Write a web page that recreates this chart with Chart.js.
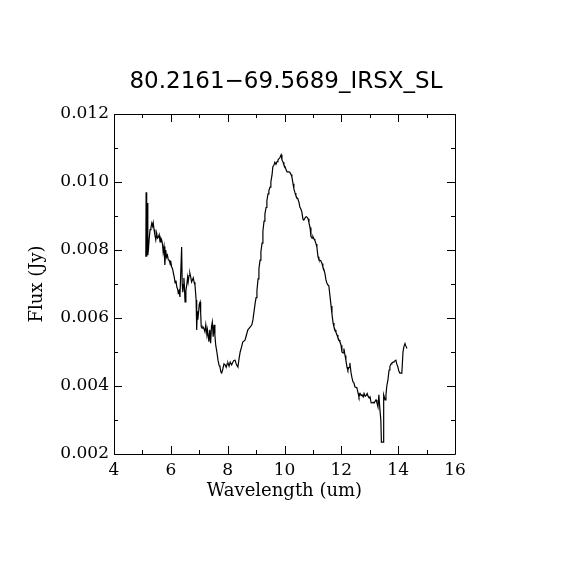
<!DOCTYPE html>
<html>
<head>
<meta charset="utf-8">
<script src="https://cdn.jsdelivr.net/npm/chart.js@4.4.0/dist/chart.umd.min.js"></script>
<style>
    html, body { margin: 0; padding: 0; background: #fff; }
</style>
</head>
<body>
<canvas id="spectrum" width="570" height="570"></canvas>
<script>
// Spectrum
const chartTitle = '80.2161\u221269.5689_IRSX_SL';
const xLabel = 'Wavelength (um)';
const yLabel = 'Flux (Jy)';

const wavelength = [
    5.12, 5.13, 5.15, 5.17, 5.19, 5.21, 5.24, 5.27, 5.30, 5.33, 5.36, 5.38, 5.41, 5.44, 5.47, 5.50,
    5.53, 5.56, 5.59, 5.62, 5.65, 5.68, 5.71, 5.73, 5.76, 5.79, 5.82, 5.85, 5.88, 5.91, 5.94, 5.97,
    6.00, 6.03, 6.06, 6.09, 6.12, 6.15, 6.18, 6.21, 6.24, 6.26, 6.29, 6.32, 6.35, 6.38, 6.40, 6.42,
    6.44, 6.46, 6.48, 6.50, 6.53, 6.56, 6.59, 6.61, 6.64, 6.67, 6.70, 6.73, 6.76, 6.79, 6.82, 6.85,
    6.89, 6.91, 6.93, 6.95, 6.98, 7.00, 7.03, 7.05, 7.07, 7.10, 7.13, 7.16, 7.20, 7.23, 7.27, 7.29,
    7.32, 7.34, 7.37, 7.40, 7.43, 7.46, 7.49, 7.52, 7.55, 7.58, 7.62, 7.66, 7.70, 7.73, 7.76, 7.79,
    7.83, 7.87, 7.91, 7.95, 7.98, 8.01, 8.05, 8.09, 8.14, 8.18, 8.22, 8.26, 8.30, 8.33, 8.36, 8.40,
    8.44, 8.49, 8.53, 8.57, 8.61, 8.66, 8.71, 8.76, 8.81, 8.85, 8.89, 8.93, 8.97, 9.00, 9.03, 9.07,
    9.10, 9.14, 9.17, 9.21, 9.24, 9.28, 9.31, 9.35, 9.38, 9.42, 9.45, 9.49, 9.52, 9.56, 9.59, 9.63,
    9.66, 9.70, 9.74, 9.77, 9.80, 9.84, 9.88, 9.91, 9.95, 9.98, 10.02, 10.06, 10.09, 10.13, 10.16, 10.19,
    10.23, 10.26, 10.30, 10.33, 10.37, 10.40, 10.44, 10.47, 10.51, 10.54, 10.58, 10.61, 10.65, 10.68, 10.72, 10.76,
    10.79, 10.83, 10.86, 10.90, 10.93, 10.97, 11.00, 11.04, 11.07, 11.11, 11.14, 11.18, 11.21, 11.25, 11.28, 11.32,
    11.35, 11.39, 11.42, 11.46, 11.49, 11.53, 11.56, 11.60, 11.64, 11.67, 11.71, 11.74, 11.78, 11.81, 11.85, 11.88,
    11.92, 11.95, 11.99, 12.02, 12.06, 12.09, 12.13, 12.16, 12.20, 12.23, 12.27, 12.30, 12.34, 12.37, 12.41, 12.44,
    12.48, 12.52, 12.55, 12.59, 12.62, 12.66, 12.70, 12.73, 12.77, 12.80, 12.84, 12.87, 12.91, 12.94, 12.98, 13.01,
    13.05, 13.08, 13.12, 13.15, 13.18, 13.22, 13.25, 13.29, 13.32, 13.36, 13.39, 13.41, 13.47, 13.49, 13.52, 13.54,
    13.57, 13.60, 13.64, 13.68, 13.71, 13.75, 13.78, 13.82, 13.85, 13.88, 13.92, 13.95, 13.99, 14.02, 14.06, 14.10,
    14.13, 14.17, 14.20, 14.24, 14.27, 14.31
];

const flux = [
    0.00780, 0.00970, 0.00780, 0.00938, 0.00785, 0.00800, 0.00835, 0.00860, 0.00865, 0.00879, 0.00870, 0.00880, 0.00860, 0.00844, 0.00830, 0.00850,
    0.00835, 0.00838, 0.00845, 0.00824, 0.00835, 0.00829, 0.00815, 0.00794, 0.00810, 0.00756, 0.00800, 0.00779, 0.00785, 0.00771, 0.00770, 0.00762,
    0.00765, 0.00750, 0.00745, 0.00732, 0.00720, 0.00703, 0.00710, 0.00691, 0.00685, 0.00674, 0.00680, 0.00662, 0.00735, 0.00809, 0.00700, 0.00676,
    0.00690, 0.00718, 0.00690, 0.00647, 0.00680, 0.00697, 0.00720, 0.00706, 0.00725, 0.00732, 0.00720, 0.00706, 0.00712, 0.00718, 0.00705, 0.00697,
    0.00653, 0.00565, 0.00620, 0.00595, 0.00620, 0.00640, 0.00647, 0.00615, 0.00574, 0.00570, 0.00574, 0.00570, 0.00559, 0.00580, 0.00550, 0.00565,
    0.00545, 0.00530, 0.00565, 0.00526, 0.00574, 0.00588, 0.00545, 0.00580, 0.00550, 0.00520, 0.00500, 0.00476, 0.00460, 0.00456, 0.00441, 0.00438,
    0.00450, 0.00465, 0.00462, 0.00455, 0.00465, 0.00468, 0.00458, 0.00470, 0.00462, 0.00470, 0.00475, 0.00476, 0.00465, 0.00460, 0.00456, 0.00480,
    0.00500, 0.00515, 0.00529, 0.00532, 0.00535, 0.00550, 0.00565, 0.00570, 0.00575, 0.00580, 0.00595, 0.00620, 0.00645, 0.00660, 0.00680, 0.00715,
    0.00745, 0.00770, 0.00795, 0.00820, 0.00855, 0.00885, 0.00905, 0.00925, 0.00945, 0.00965, 0.00975, 0.00985, 0.01000, 0.01020, 0.01045, 0.01050,
    0.01058, 0.01052, 0.01060, 0.01065, 0.01068, 0.01072, 0.01080, 0.01065, 0.01058, 0.01050, 0.01045, 0.01035, 0.01030, 0.01030, 0.01030, 0.01028,
    0.01022, 0.01015, 0.00995, 0.00980, 0.00968, 0.00960, 0.00953, 0.00950, 0.00940, 0.00926, 0.00920, 0.00912, 0.00890, 0.00888, 0.00894, 0.00898,
    0.00897, 0.00892, 0.00880, 0.00866, 0.00840, 0.00835, 0.00840, 0.00832, 0.00828, 0.00818, 0.00808, 0.00780, 0.00772, 0.00770, 0.00768, 0.00760,
    0.00750, 0.00742, 0.00732, 0.00712, 0.00703, 0.00697, 0.00695, 0.00665, 0.00635, 0.00612, 0.00585, 0.00574, 0.00565, 0.00558, 0.00550, 0.00542,
    0.00535, 0.00530, 0.00520, 0.00500, 0.00497, 0.00510, 0.00490, 0.00476, 0.00455, 0.00447, 0.00455, 0.00468, 0.00440, 0.00426, 0.00412, 0.00410,
    0.00397, 0.00396, 0.00394, 0.00379, 0.00368, 0.00378, 0.00372, 0.00374, 0.00368, 0.00378, 0.00370, 0.00372, 0.00378, 0.00370, 0.00365, 0.00368,
    0.00350, 0.00350, 0.00352, 0.00350, 0.00350, 0.00359, 0.00352, 0.00338, 0.00374, 0.00329, 0.00300, 0.00235, 0.00235, 0.00374, 0.00365, 0.00359,
    0.00374, 0.00400, 0.00418, 0.00447, 0.00458, 0.00465, 0.00468, 0.00470, 0.00471, 0.00474, 0.00476, 0.00465, 0.00456, 0.00445, 0.00438, 0.00438,
    0.00440, 0.00500, 0.00515, 0.00525, 0.00518, 0.00510
];

// Axis ticks
const xMajorTicks = [4, 6, 8, 10, 12, 14, 16];
const xMinorTicks = [5, 7, 9, 11, 13, 15];
const yMajorTicks = [0.002, 0.004, 0.006, 0.008, 0.010, 0.012];
const yMinorTicks = [0.003, 0.005, 0.007, 0.009, 0.011];

/**
 * Draws the frame, inward ticks on all four sides and the title
 */
const framePlugin = {
    id: 'frame',
    afterDraw(chart) {
        const { ctx, chartArea: a, scales } = chart;
        const sx = scales.x;
        const sy = scales.y;
        const majorLen = 8;
        const minorLen = 4;

        ctx.save();
        ctx.strokeStyle = '#000';
        ctx.lineWidth = 1;
        ctx.beginPath();
        ctx.rect(a.left + 0.5, a.top + 0.5, a.right - a.left, a.bottom - a.top);

        const xTick = (v, len) => {
            const px = Math.round(sx.getPixelForValue(v)) + 0.5;
            ctx.moveTo(px, a.bottom);
            ctx.lineTo(px, a.bottom - len);
            ctx.moveTo(px, a.top);
            ctx.lineTo(px, a.top + len);
        };
        const yTick = (v, len) => {
            const py = Math.round(sy.getPixelForValue(v)) + 0.5;
            ctx.moveTo(a.left, py);
            ctx.lineTo(a.left + len, py);
            ctx.moveTo(a.right, py);
            ctx.lineTo(a.right - len, py);
        };
        xMajorTicks.forEach(v => xTick(v, majorLen));
        xMinorTicks.forEach(v => xTick(v, minorLen));
        yMajorTicks.forEach(v => yTick(v, majorLen));
        yMinorTicks.forEach(v => yTick(v, minorLen));
        ctx.stroke();

        // Title
        ctx.fillStyle = '#000';
        ctx.font = '23px "DejaVu Sans"';
        ctx.textAlign = 'center';
        ctx.textBaseline = 'middle';
        ctx.fillText(chartTitle, chart.width / 2 + 1, 82);
        ctx.restore();
    }
};

const ctx = document.getElementById('spectrum');

new Chart(ctx, {
    type: 'scatter',
    data: {
        datasets: [{
            data: wavelength.map((w, i) => ({ x: w, y: flux[i] })),
            showLine: true,
            borderColor: '#000',
            borderWidth: 1.2,
            pointRadius: 0,
            tension: 0
        }]
    },
    options: {
        responsive: false,
        animation: false,
        layout: {
            padding: { top: 114, right: 115, bottom: 0, left: 0 }
        },
        plugins: {
            legend: { display: false },
            tooltip: { enabled: false }
        },
        scales: {
            x: {
                type: 'linear',
                min: 4,
                max: 16,
                afterBuildTicks: scale => {
                    scale.ticks = xMajorTicks.map(v => ({ value: v }));
                },
                afterFit: scale => {
                    scale.height = 116;
                },
                grid: { display: false, drawTicks: false },
                border: { display: false },
                ticks: {
                    color: '#000',
                    padding: 6,
                    maxRotation: 0,
                    font: { family: 'DejaVu Serif', size: 17 }
                },
                title: {
                    display: true,
                    text: xLabel,
                    color: '#000',
                    font: { family: 'DejaVu Serif', size: 18 },
                    padding: { top: 0, bottom: 68 }
                }
            },
            y: {
                type: 'linear',
                min: 0.002,
                max: 0.012,
                afterBuildTicks: scale => {
                    scale.ticks = yMajorTicks.map(v => ({ value: v }));
                },
                afterFit: scale => {
                    scale.width = 114;
                },
                grid: { display: false, drawTicks: false },
                border: { display: false },
                ticks: {
                    color: '#000',
                    padding: 5,
                    font: { family: 'DejaVu Serif', size: 17 },
                    callback: value => value.toFixed(3)
                },
                title: {
                    display: true,
                    text: yLabel,
                    color: '#000',
                    font: { family: 'DejaVu Serif', size: 18 },
                    padding: { top: 27, bottom: 0 }
                }
            }
        }
    },
    plugins: [framePlugin]
});
</script>
</body>
</html>
